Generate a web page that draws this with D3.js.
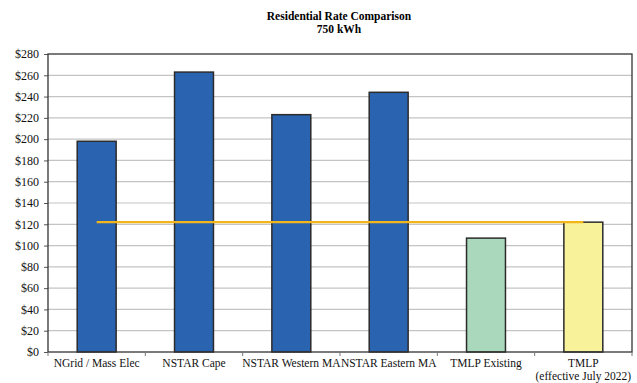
<!DOCTYPE html>
<html><head><meta charset="utf-8">
<script src="https://cdn.jsdelivr.net/npm/d3@7"></script>
<style>body{margin:0;background:#fff;} svg text{font-family:'Liberation Serif','DejaVu Serif','Times New Roman',serif;}</style>
</head><body>
<script>
const categories = ["NGrid / Mass Elec","NSTAR Cape","NSTAR Western MA","NSTAR Eastern MA","TMLP Existing","TMLP\n(effective July 2022)"];
const values = [198, 263, 223, 244, 107, 122];
const barColors = ["#2a64b0","#2a64b0","#2a64b0","#2a64b0","#a9d8bd","#f8f29a"];
const referenceValue = 122;
const yTicks = [0,20,40,60,80,100,120,140,160,180,200,220,240,260,280];

const W = 637, H = 383;
const m = {left:48, right:5, top:54, bottom:31};
const svg = d3.select("body").append("svg").attr("width",W).attr("height",H).style("display","block");

const x = d3.scaleBand().domain(categories).range([m.left, W-m.right]).paddingInner(0.6).paddingOuter(0.3);
const y = d3.scaleLinear().domain([0,280]).range([H-m.bottom, m.top]);

svg.append("text").attr("x",339).attr("y",20).attr("text-anchor","middle")
  .attr("font-size",11.5).attr("font-weight","bold").text("Residential Rate Comparison");
svg.append("text").attr("x",339).attr("y",33).attr("text-anchor","middle")
  .attr("font-size",11.5).attr("font-weight","bold").text("750 kWh");

// gridlines
svg.append("g").selectAll("line").data(yTicks.filter(d=>d>0&&d<280)).join("line")
  .attr("x1",m.left).attr("x2",W-m.right).attr("y1",d=>y(d)).attr("y2",d=>y(d))
  .attr("stroke","#c4c4c4").attr("stroke-width",1.2);

// y axis
const yAxis = svg.append("g").attr("transform",`translate(${m.left},0)`)
  .call(d3.axisLeft(y).tickValues(yTicks).tickFormat(d=>"$"+d).tickSize(4).tickPadding(5));
yAxis.attr("font-family",null);
yAxis.select(".domain").remove();
yAxis.selectAll("line").attr("stroke","#555");
yAxis.selectAll("text").attr("font-size",12).attr("fill","#111");

// bars
svg.append("g").selectAll("rect").data(values).join("rect")
  .attr("x",(d,i)=>x(categories[i])).attr("width",x.bandwidth())
  .attr("y",d=>y(d)).attr("height",d=>y(0)-y(d))
  .attr("fill",(d,i)=>barColors[i]).attr("stroke","#2b2b2b").attr("stroke-width",1.5);

// reference line
svg.append("line")
  .attr("x1",x(categories[0])+x.bandwidth()/2).attr("x2",x(categories[categories.length-1])+x.bandwidth()/2)
  .attr("y1",y(referenceValue)).attr("y2",y(referenceValue))
  .attr("stroke","#f2b51c").attr("stroke-width",2.2);

// plot frame
svg.append("rect").attr("x",m.left).attr("y",m.top).attr("width",W-m.right-m.left).attr("height",H-m.bottom-m.top)
  .attr("fill","none").attr("stroke","#333").attr("stroke-width",1.3);

// x axis ticks between categories
const xTickPos = d3.range(categories.length+1).map(i=>m.left + i*(W-m.right-m.left)/categories.length);
svg.append("g").selectAll("line").data(xTickPos).join("line")
  .attr("x1",d=>d).attr("x2",d=>d).attr("y1",y(0)).attr("y2",y(0)+4)
  .attr("stroke","#777");

// x labels (one text per line)
const lines = [];
categories.forEach(c=>c.split("\n").forEach((p,i)=>lines.push({c, p, i})));
svg.append("g").selectAll("text").data(lines).join("text")
  .attr("x",d=>x(d.c)+x.bandwidth()/2).attr("y",d=>y(0)+15+d.i*12.5).attr("text-anchor","middle")
  .attr("font-size",11.5).attr("fill","#111").text(d=>d.p);
</script>
</body></html>
